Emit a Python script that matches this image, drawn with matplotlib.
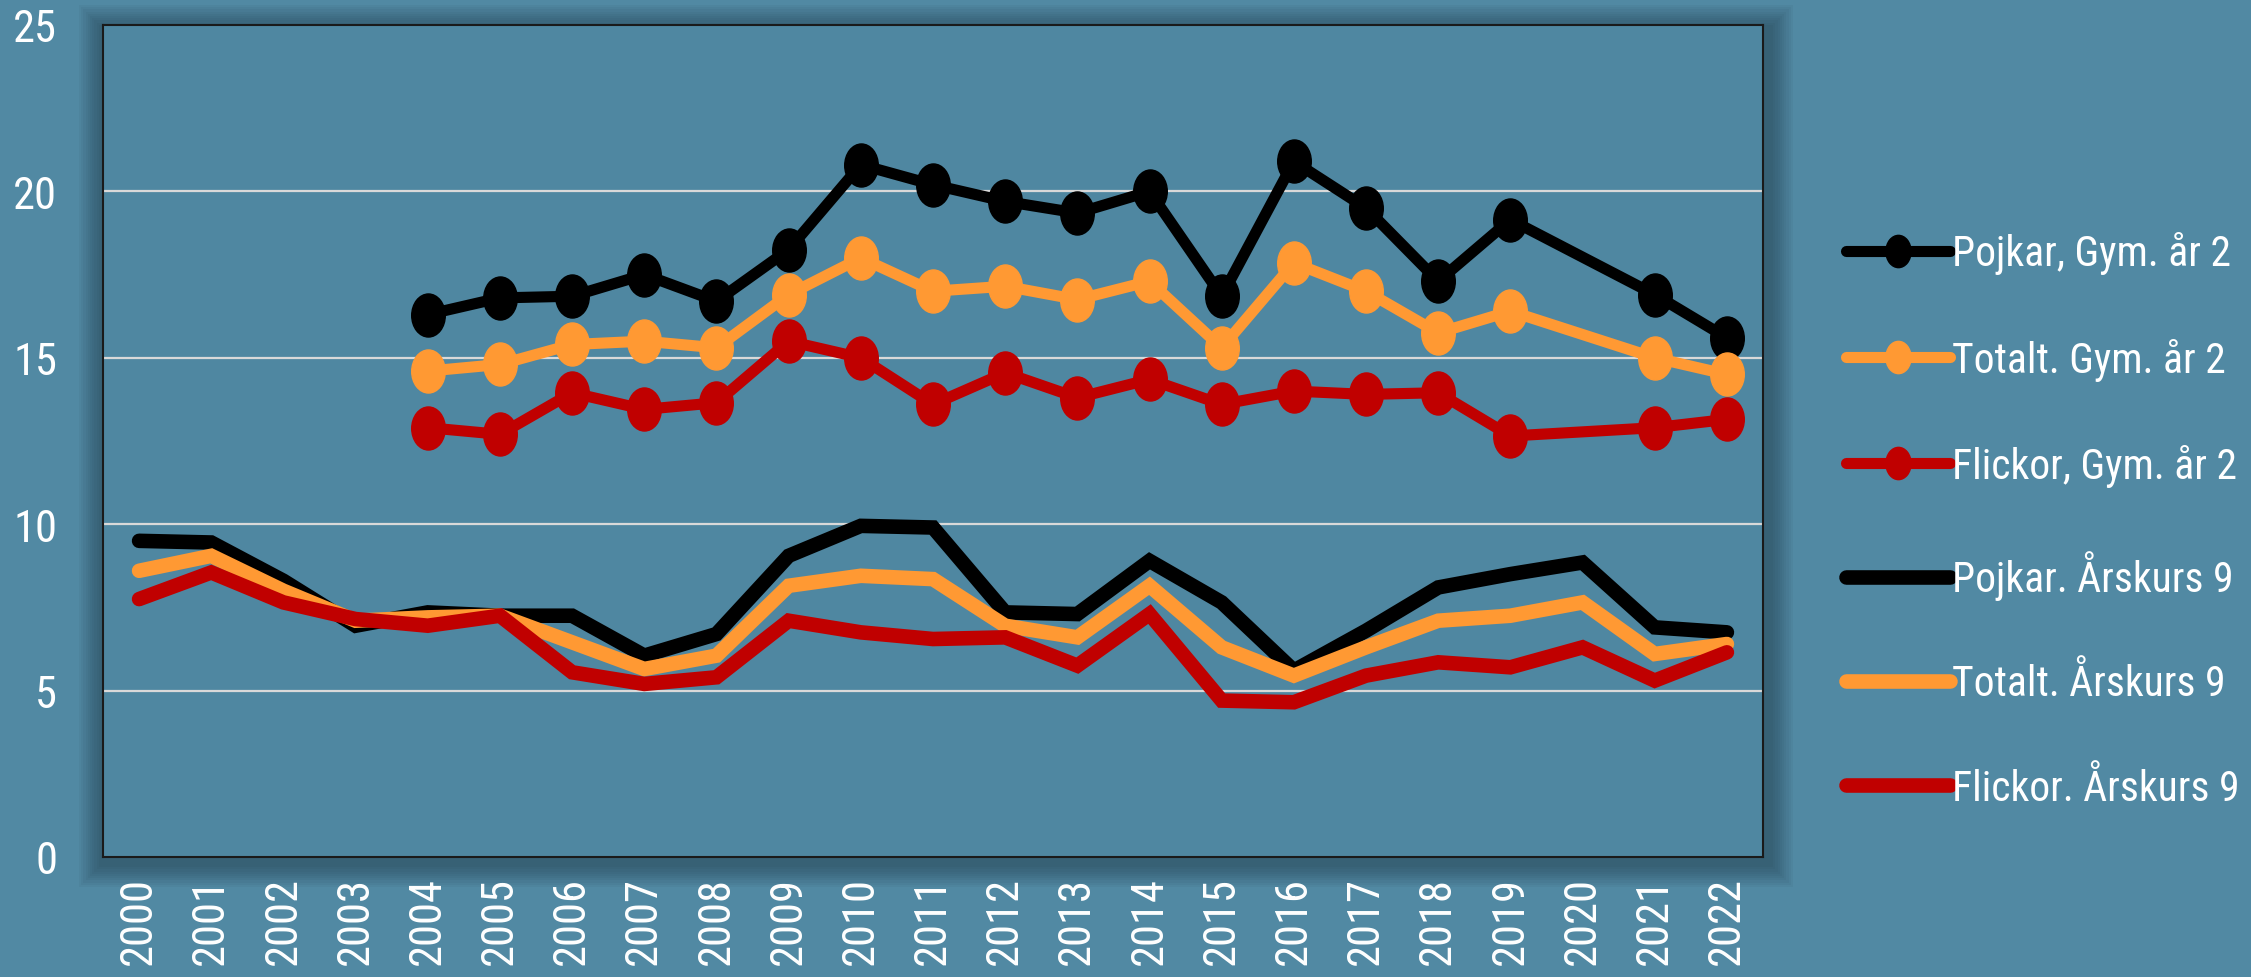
import numpy as np
import matplotlib
matplotlib.use("Agg")
import matplotlib.pyplot as plt
from matplotlib.patches import Rectangle
from matplotlib.path import Path
from matplotlib.transforms import Affine2D

years = [str(y) for y in range(2000, 2023)]

# Gym. år 2 (no value for 2000-2003 and 2020)
pojkar_gym = [None, None, None, None, 16.3, 16.8, 16.85, 17.5, 16.7, 18.25, 20.8, 20.2, 19.7,
              19.35, 20.0, 16.85, 20.9, 19.5, 17.3, 19.15, None, 16.9, 15.6]
totalt_gym = [None, None, None, None, 14.6, 14.8, 15.4, 15.5, 15.3, 16.9, 18.0, 17.0, 17.15,
              16.75, 17.3, 15.3, 17.85, 17.0, 15.75, 16.4, None, 15.0, 14.5]
flickor_gym = [None, None, None, None, 12.9, 12.7, 13.95, 13.45, 13.65, 15.5, 15.0, 13.6, 14.55,
               13.8, 14.35, 13.6, 14.0, 13.9, 13.95, 12.65, None, 12.9, 13.15]

# Årskurs 9
pojkar_ak9 = [9.5, 9.45, 8.3, 6.95, 7.35, 7.25, 7.25, 6.05, 6.7, 9.05, 9.95, 9.9, 7.35,
              7.3, 8.9, 7.65, 5.6, 6.8, 8.1, 8.5, 8.85, 6.9, 6.75]
totalt_ak9 = [8.6, 9.05, 8.0, 7.1, 7.2, 7.25, 6.45, 5.65, 6.05, 8.15, 8.45, 8.35, 6.95,
              6.6, 8.15, 6.3, 5.45, 6.3, 7.1, 7.25, 7.65, 6.1, 6.4]
flickor_ak9 = [7.75, 8.55, 7.65, 7.15, 6.95, 7.25, 5.55, 5.2, 5.4, 7.1, 6.75, 6.55, 6.6,
               5.75, 7.3, 4.7, 4.65, 5.45, 5.85, 5.7, 6.3, 5.3, 6.15]

labels = ["Pojkar, Gym. år 2", "Totalt. Gym. år 2", "Flickor, Gym. år 2",
          "Pojkar. Årskurs 9", "Totalt. Årskurs 9", "Flickor. Årskurs 9"]
colors = ["#000000", "#ff9933", "#c00000"]

bg = "#5189a3"
plot_bg = "#4f87a1"
fnt = ["Liberation Sans Narrow", "Roboto Condensed", "DejaVu Sans"]
plt.rcParams["font.family"] = fnt

fig = plt.figure(figsize=(22.51, 9.78), dpi=100)
fig.patch.set_facecolor(bg)

left, bottom, width, height = 103 / 2251, 1 - 858 / 978, (1763 - 103) / 2251, (858 - 26) / 978

# soft shadow behind the plot area, a bit heavier to the lower right
for i in range(10, 0, -1):
    d = i * 2.2
    fig.patches.append(Rectangle((left - (d + 2) / 2251, bottom - (d + 8) / 978),
                                 width + (2 * d + 10) / 2251, height + (2 * d + 6) / 978,
                                 transform=fig.transFigure, facecolor="#1b3442",
                                 alpha=0.055, edgecolor="none", zorder=0))

ax = fig.add_axes([left, bottom, width, height])
ax.set_zorder(2)
ax.set_facecolor(plot_bg)

x = np.arange(len(years))
ell = Path.unit_circle().transformed(Affine2D().scale(0.78, 1.0))

for vals, c, lab in zip([pojkar_gym, totalt_gym, flickor_gym], colors, labels[:3]):
    xs = [i for i, v in zip(x, vals) if v is not None]
    ys = [v for v in vals if v is not None]
    ax.plot(xs, ys, color=c, lw=8, marker=ell, markersize=31, label=lab,
            solid_capstyle="round", zorder=3)

for vals, c, lab in zip([pojkar_ak9, totalt_ak9, flickor_ak9], colors, labels[3:]):
    ax.plot(x, vals, color=c, lw=10.5, label=lab, solid_capstyle="round",
            solid_joinstyle="miter", zorder=2)

ax.set_xlim(-0.5, len(years) - 0.5)
ax.set_ylim(0, 25)
ax.set_yticks([0, 5, 10, 15, 20, 25])
ax.set_xticks(x)
ax.set_xticklabels(years, rotation=90)
ax.tick_params(axis="both", length=0, colors="white", labelsize=32)
ax.tick_params(axis="y", pad=33)
ax.tick_params(axis="x", pad=14)

for yv in [5, 10, 15, 20]:
    ax.axhline(yv, color="#d9d9d9", lw=1.6, zorder=1)

for sp in ax.spines.values():
    sp.set_color("#1a1a1a")
    sp.set_linewidth(1.5)

leg = fig.legend(loc="center left", bbox_to_anchor=(1808 / 2251, 1 - 521 / 978),
                 frameon=False, fontsize=30, labelcolor="white", handlelength=2.5,
                 handletextpad=0.05, labelspacing=1.52, markerscale=0.75)

fig.savefig("out.png", dpi=100, facecolor=fig.get_facecolor())
